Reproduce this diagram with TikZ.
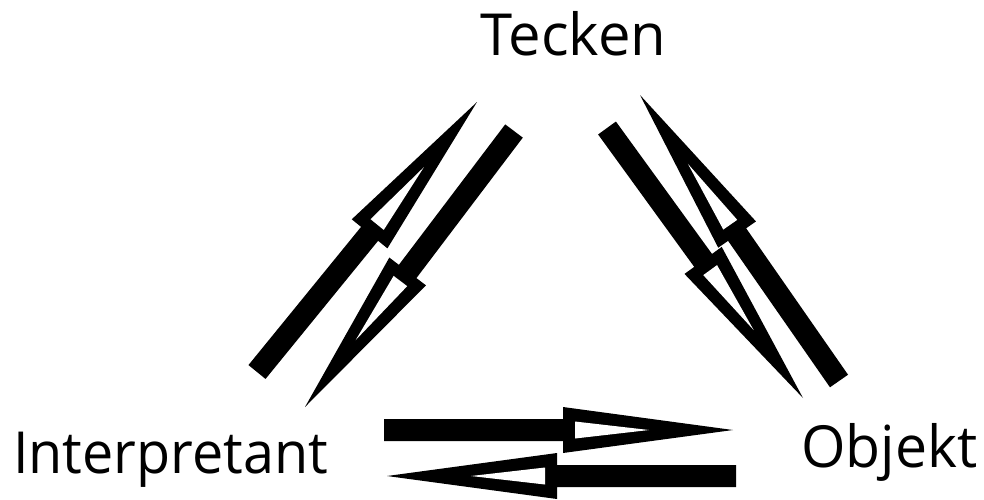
\documentclass[tikz,border=0pt]{standalone}
\usepackage{fontspec}
\setmainfont{Open Sans}
\usetikzlibrary{calc}
\tikzset{
  lbl/.style={inner sep=0pt, font=\fontsize{58}{60}\selectfont, text=black},
}
% hollow-headed block arrow from #1 to #2 (tip at #2)
\newcommand\hollowarrow[2]{%
  \fill[black] let \p1=(#1), \p2=(#2),
      \n1={atan2(\y2-\y1,\x2-\x1)}, \n2={veclen(\x2-\x1,\y2-\y1)} in
    ($(\p1)+(\n1+90:11pt)$) -- ($(\p1)+(\n1-90:11pt)$)
    -- ($(\p1)+(\n1:{(\n2-166)*1pt})+(\n1-90:11pt)$)
    -- ($(\p1)+(\n1:{(\n2-166)*1pt})+(\n1+90:11pt)$) -- cycle
    ($(\p1)+(\n1:{(\n2-170)*1pt})+(\n1+90:23pt)$)
    -- ($(\p1)+(\n1:{(\n2-170)*1pt})+(\n1-90:23pt)$)
    -- (\p2) -- cycle;
  \fill[white] let \p1=(#1), \p2=(#2),
      \n1={atan2(\y2-\y1,\x2-\x1)}, \n2={veclen(\x2-\x1,\y2-\y1)} in
    ($(\p1)+(\n1:{(\n2-158)*1pt})+(\n1+90:8.5pt)$)
    -- ($(\p1)+(\n1:{(\n2-158)*1pt})+(\n1-90:8.5pt)$)
    -- ($(\p1)+(\n1:{(\n2-84)*1pt})$) -- cycle;
}
\begin{document}
\begin{tikzpicture}[x=1pt,y=-1pt]
\useasboundingbox[fill=white] (0,0) rectangle (984,499);
\node[lbl, anchor=base] (tecken) at (573.5,55) {Tecken};
\node[lbl, anchor=base west] (interp) at (13,473) {\scalebox{0.96}[1]{Interpretant}};
\node[lbl, anchor=base west] (objekt) at (801,467) {\scalebox{0.985}[1]{Objekt}};
% arrow end points
\coordinate (as) at (257,372); \coordinate (at) at (477,102);
\coordinate (bs) at (514,131); \coordinate (bt) at (305,407);
\coordinate (cs) at (839,381); \coordinate (ct) at (640,95);
\coordinate (ds) at (607,128); \coordinate (dt) at (803,398);
\coordinate (es) at (384,430); \coordinate (et) at (733,430);
\coordinate (fs) at (736,476); \coordinate (ft) at (387,476);
\hollowarrow{as}{at}
\hollowarrow{bs}{bt}
\hollowarrow{cs}{ct}
\hollowarrow{ds}{dt}
\hollowarrow{es}{et}
\hollowarrow{fs}{ft}
\end{tikzpicture}
\end{document}
